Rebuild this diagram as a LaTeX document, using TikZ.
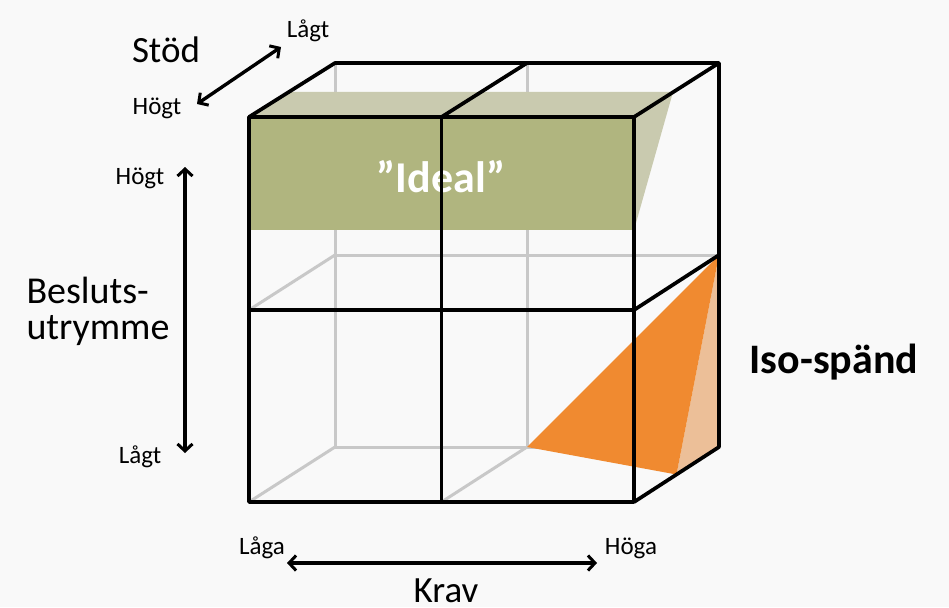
\documentclass[tikz,border=0pt]{standalone}
\usepackage{fontspec}
\setmainfont{Carlito}
\usetikzlibrary{arrows.meta,calc}
\definecolor{bgc}{HTML}{F9F9F9}
\definecolor{greenfront}{HTML}{B0B57F}
\definecolor{greentop}{HTML}{C9CAAF}
\definecolor{orangemain}{HTML}{F08A30}
\definecolor{orangelight}{HTML}{ECBF98}
\definecolor{backgray}{HTML}{C8C8C8}
\begin{document}
\begin{tikzpicture}[x=1pt,y=-1pt,
  frontline/.style={line width=3.7pt,black,line join=round},
  backline/.style={line width=3pt,backgray},
  axisarrow/.style={line width=3.4pt,black,{Straight Barb[length=7pt,width=15pt,line width=3pt]}-{Straight Barb[length=7pt,width=15pt,line width=3pt]}},
  biglabel/.style={font=\fontsize{37}{42}\selectfont},
  smalllabel/.style={font=\fontsize{25}{30}\selectfont},
]
\fill[bgc] (0,0) rectangle (949,607);
\useasboundingbox (0,0) rectangle (949,607);
% front corners
\coordinate (f00) at (249,117); \coordinate (f10) at (441.5,117); \coordinate (f20) at (634,117);
\coordinate (f01) at (249,310); \coordinate (f11) at (441.5,310); \coordinate (f21) at (634,310);
\coordinate (f02) at (249,502); \coordinate (f12) at (441.5,502); \coordinate (f22) at (634,502);
% back corners
\coordinate (b00) at (335,63); \coordinate (b10) at (527,63); \coordinate (b20) at (719,63);
\coordinate (b01) at (335,255); \coordinate (b11) at (527,255); \coordinate (b21) at (719,255);
\coordinate (b02) at (335,447); \coordinate (b12) at (527,447); \coordinate (b22) at (719,447);
% hidden (grey) edges
\draw[backline] (b00) -- (b02) -- (b22);
\draw[backline] (b10) -- (b12);
\draw[backline] (b01) -- (b21);
\draw[backline] (f01) -- (b01);
\draw[backline] (f02) -- (b02);
\draw[backline] (f12) -- (b12);
% green "Ideal" block
\coordinate (gtl) at (288,92); \coordinate (gtr) at (673,92);
\coordinate (gbl) at (249,230); \coordinate (gbr) at (634,230);
\fill[greentop] (f00) -- (gtl) -- (gtr) -- (f20) -- cycle;
\fill[greentop] (f20) -- (gtr) -- (gbr) -- cycle;
\fill[greenfront] (f00) rectangle (gbr);
\node[text=white,font=\fontsize{44}{50}\selectfont\bfseries] (ideal) at (441,177) {”Ideal”};
% orange Iso-spand wedge
\coordinate (omid) at ($(f22)!0.5!(b22)$);
\fill[orangelight] (b21) -- (b22) -- (omid) -- cycle;
\fill[orangemain] (b12) -- (b21) -- (omid) -- cycle;
% visible (black) edges
\draw[frontline] (f00) rectangle (f22);
\draw[frontline] (f10) -- (f12);
\draw[frontline] (f01) -- (f21);
\draw[frontline] (f00) -- (b00) -- (b20) -- (b22) -- (f22);
\draw[frontline] (f10) -- (b10);
\draw[frontline] (f20) -- (b20);
\draw[frontline] (f21) -- (b21);
% axis labels and arrows
\node[biglabel] (stod) at (166,50) {Stöd};
\node[smalllabel] (stodlow) at (308,31) {Lågt};
\node[smalllabel] (stodhigh) at (157,108) {Högt};
\coordinate (sa1) at (197,104); \coordinate (sa2) at (281,47);
\draw[axisarrow] (sa1) -- (sa2);
\node[smalllabel] (beshigh) at (140,178) {Högt};
\node[smalllabel] (beslow) at (140,457) {Lågt};
\node[biglabel,align=left,font=\fontsize{38}{36}\selectfont] (besl) at (98,311) {Besluts-\\utrymme};
\coordinate (va1) at (185,167); \coordinate (va2) at (185,453);
\draw[axisarrow] (va1) -- (va2);
\node[smalllabel] (kravlow) at (262,548) {Låga};
\node[smalllabel] (kravhigh) at (631,548) {Höga};
\coordinate (ha1) at (287,563); \coordinate (ha2) at (597,563);
\draw[axisarrow] (ha1) -- (ha2);
\node[biglabel] (krav) at (446,591) {Krav};
\node[font=\fontsize{42}{48}\selectfont\bfseries] (iso) at (834,362) {Iso-spänd};
\end{tikzpicture}
\end{document}
